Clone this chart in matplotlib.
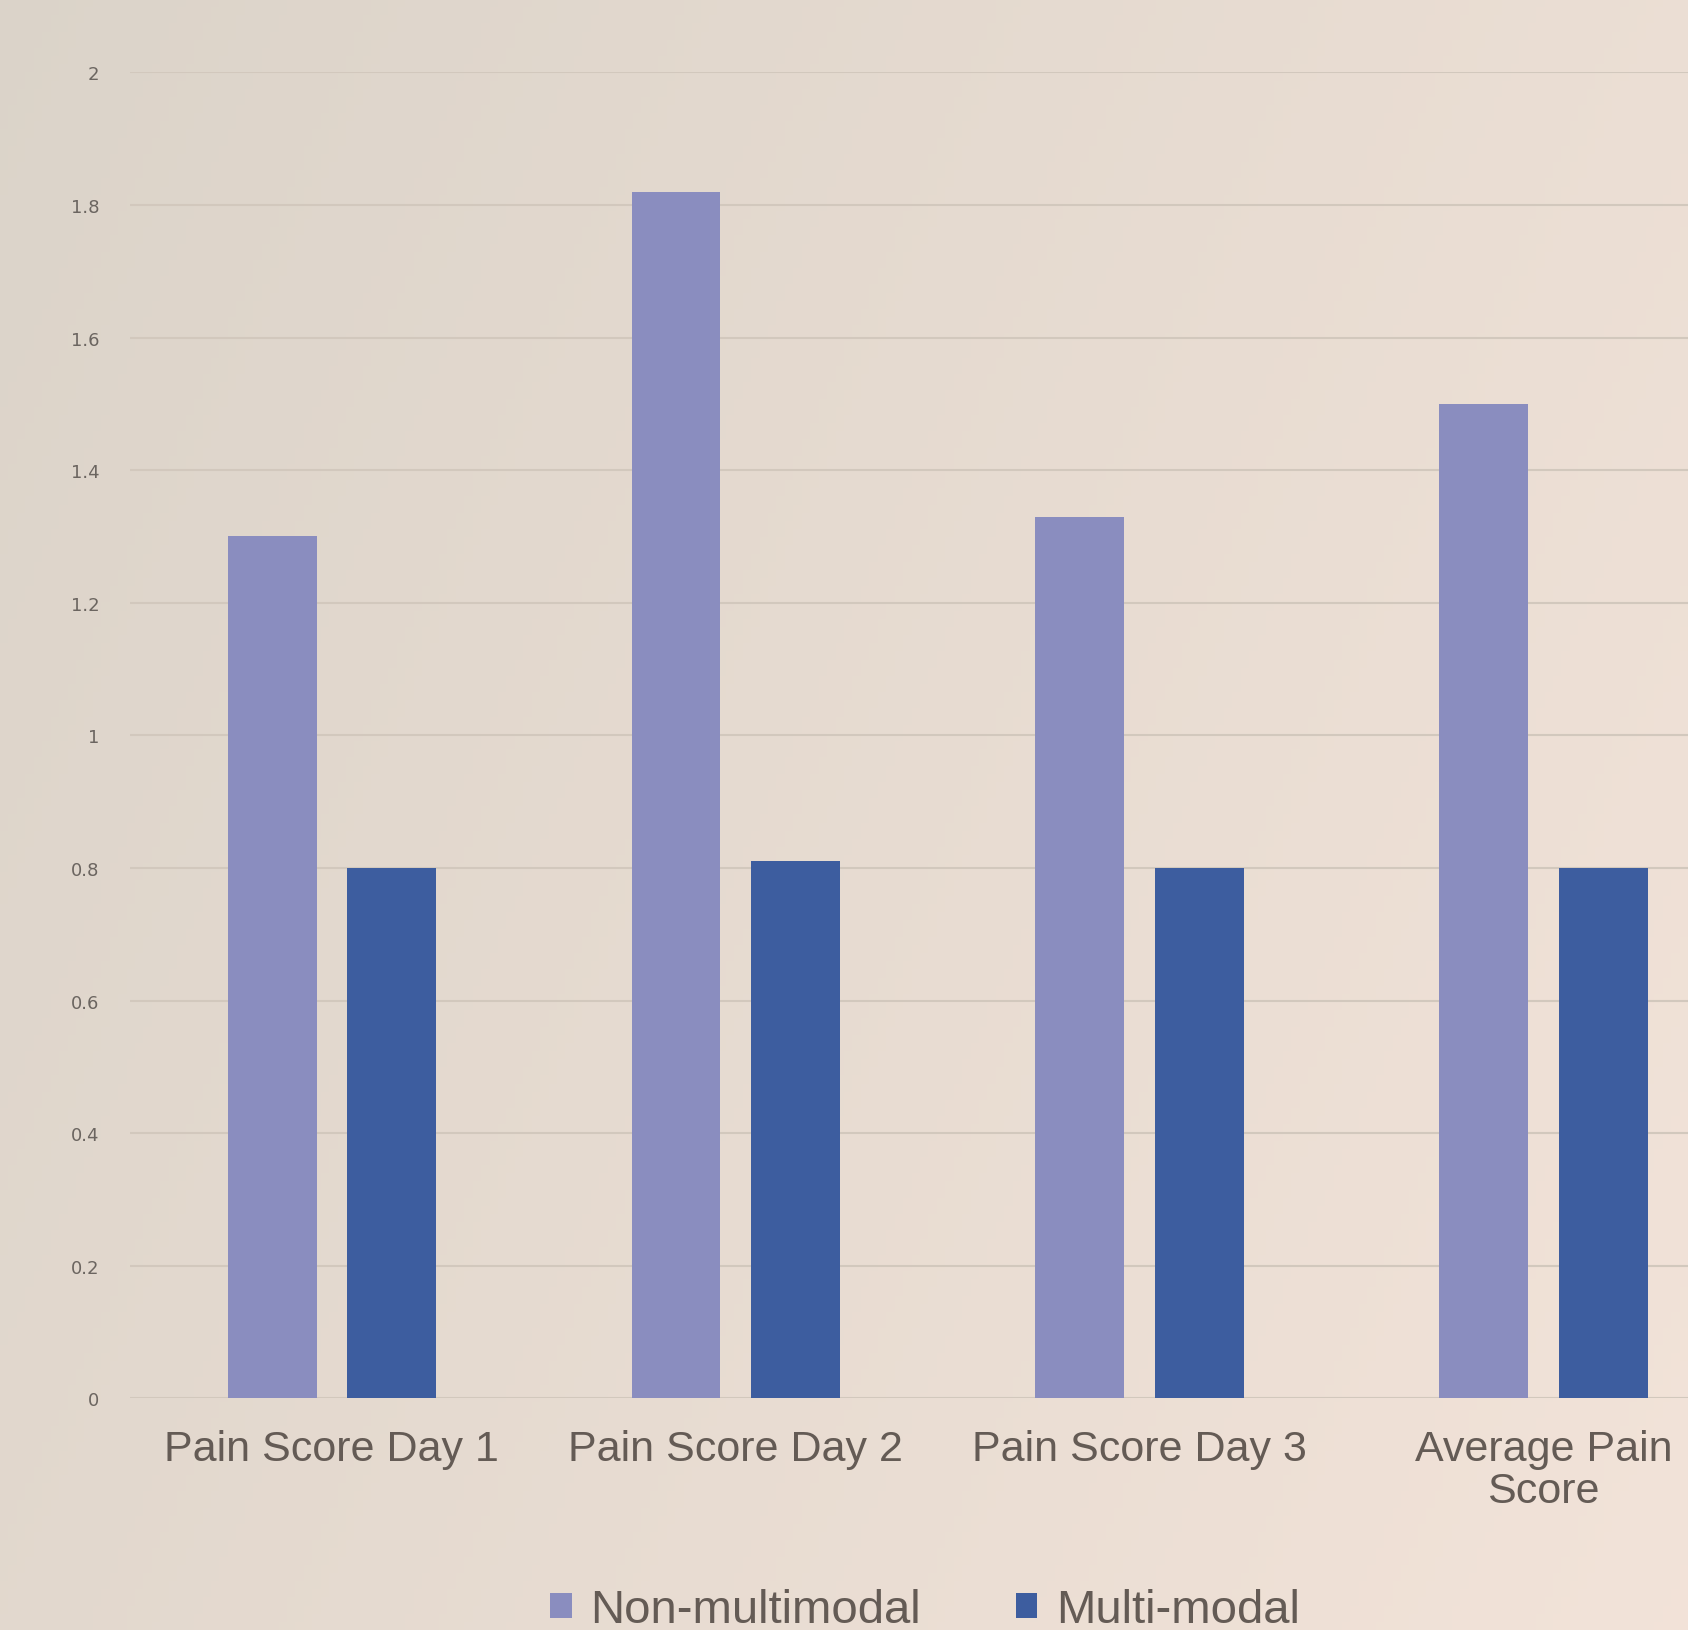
import matplotlib
matplotlib.use("Agg")
import matplotlib.pyplot as plt
import numpy as np

categories = ["Pain Score Day 1", "Pain Score Day 2", "Pain Score Day 3", "Average Pain\nScore"]
non_multimodal = [1.30, 1.82, 1.33, 1.50]
multi_modal = [0.80, 0.81, 0.80, 0.80]
yticks = [0, 0.2, 0.4, 0.6, 0.8, 1, 1.2, 1.4, 1.6, 1.8, 2]

fig = plt.figure(figsize=(16.88, 16.31), dpi=100)

# photo-like background gradient
bg = fig.add_axes([0, 0, 1, 1], zorder=-10)
gx = np.linspace(0, 1, 200)
gy = np.linspace(0, 1, 200)
X, Y = np.meshgrid(gx, gy)
c_left = np.array([0.86, 0.83, 0.79])
c_right = np.array([0.95, 0.89, 0.85])
t = np.clip(0.7 * X + 0.3 * Y, 0, 1)[..., None]
img = c_left * (1 - t) + c_right * t
bg.imshow(img, aspect="auto", extent=[0, 1, 0, 1], origin="upper")
bg.axis("off")

ax = fig.add_axes([0.077, 0.142, 0.957, 0.813])
ax.patch.set_alpha(0)
x = np.arange(len(categories))
w = 0.22
off = 0.148
ax.bar(x - off, non_multimodal, w, color="#8a8dbf", label="Non-multimodal", zorder=3)
ax.bar(x + off, multi_modal, w, color="#3d5d9f", label="Multi-modal", zorder=3)

ax.set_xlim(-0.5, 3.5)
ax.set_ylim(0, 2)
ax.set_yticks(yticks)
ax.set_yticklabels([f"{v:g}" for v in yticks], fontsize=13, color="#6b6560")
ax.set_xticks(x)
ax.set_xticklabels(categories, fontsize=31, color="#645b55", family="Liberation Sans",
                   linespacing=1.05)
ax.tick_params(length=0, pad=22)
ax.tick_params(axis="x", pad=22)
ax.grid(axis="y", color="#d2c8bd", linewidth=1.5, zorder=0)
for s in ax.spines.values():
    s.set_visible(False)

fig.legend(loc="center", bbox_to_anchor=(0.548, 0.012), ncol=2, frameon=False,
           prop={"family": "Liberation Sans", "size": 34}, labelcolor="#645b55",
           handlelength=0.45, handleheight=0.45, columnspacing=2.0, handletextpad=0.4)

fig.savefig("out.png", dpi=100)
